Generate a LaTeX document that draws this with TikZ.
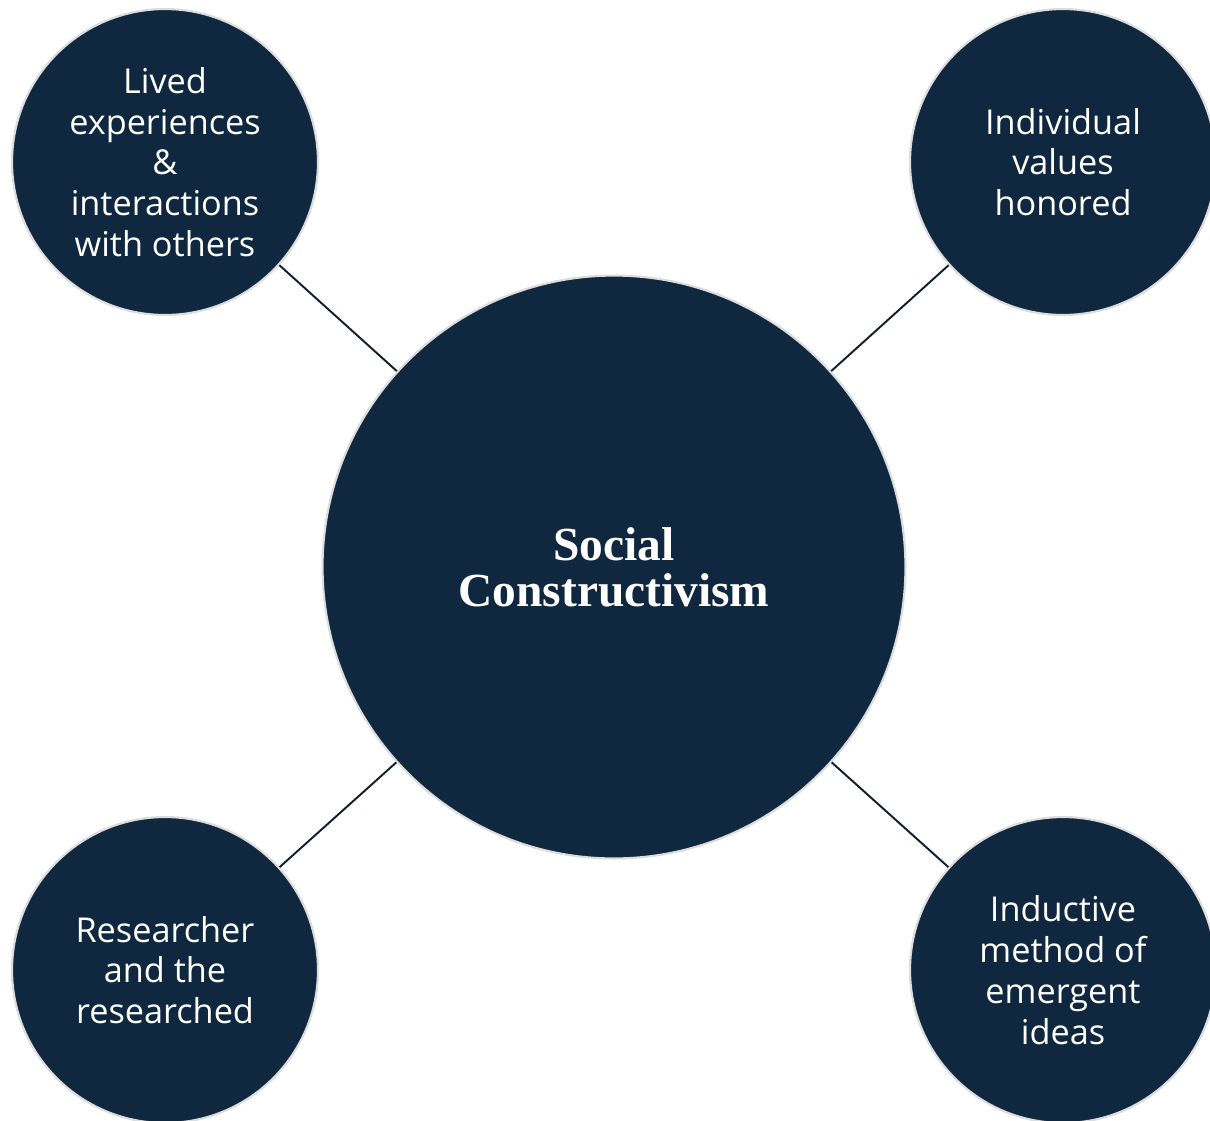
\documentclass[tikz,border=0pt]{standalone}
\usepackage{fontspec}
\setmainfont{Liberation Serif}
\setsansfont{Open Sans}
\usepackage{xcolor}
\usetikzlibrary{positioning,shapes}

\definecolor{navy}{HTML}{10283F}
\definecolor{rimgray}{HTML}{DCDCDC}
\definecolor{linknavy}{HTML}{0F1E30}

\begin{document}
\begin{tikzpicture}[x=0.02cm,y=-0.02cm]
\tikzstyle{bubble}=[circle,fill=navy,draw=rimgray,line width=1.2pt,text=white,align=center,inner sep=0pt]
\tikzstyle{small}=[bubble,minimum size=6.12cm,font=\sffamily\fontsize{19.5}{23.2}\selectfont]
\tikzstyle{big}=[bubble,minimum size=11.66cm,font=\rmfamily\bfseries\fontsize{27}{26}\selectfont]
\tikzstyle{link}=[draw=linknavy,line width=1.1pt]
\useasboundingbox (0,0) rectangle (1210,1120);
\clip (0,0) rectangle (1210,1120);
\fill [white] (0,0) rectangle (1210,1120);
% hub and the four ideas around it
\node [big] (hub) at (614,567) {Social\\Constructivism};
\node [small] (lived) at (165,162) {Lived\\experiences\\\&\\interactions\\with others};
\node [small] (values) at (1063,162) {Individual\\values\\honored};
\node [small] (research) at (165,970) {Researcher\\and the\\researched};
\node [small] (induct) at (1063,970) {Inductive\\method of\\emergent\\ideas};
% spokes
\draw [link] (hub) -- (lived);
\draw [link] (hub) -- (values);
\draw [link] (hub) -- (research);
\draw [link] (hub) -- (induct);
\end{tikzpicture}
\end{document}
